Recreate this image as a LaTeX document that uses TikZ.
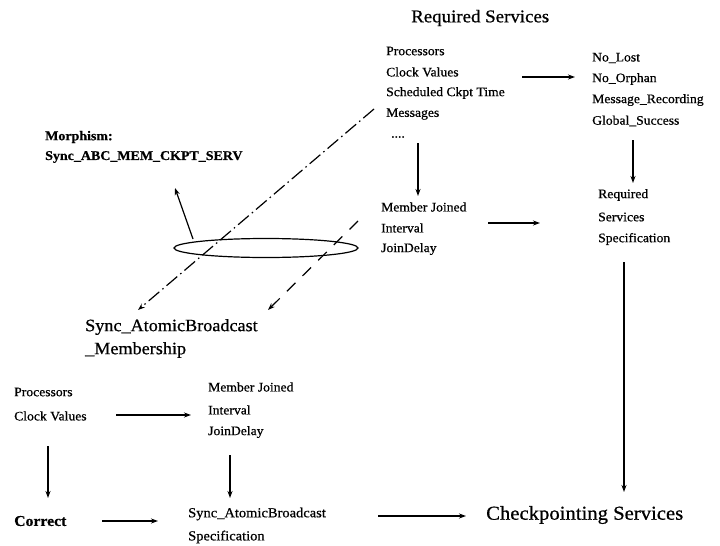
\documentclass[tikz,border=0pt]{standalone}
\usepackage{fontspec}
\setmainfont{Liberation Serif}[FakeStretch=1.05,FakeBold=0.7]
\usetikzlibrary{arrows.meta}
\begin{document}
\begin{tikzpicture}[x=1pt,y=-1pt,
  lbl/.style={anchor=west,inner sep=0pt,font=\fontsize{13}{15}\selectfont},
  lblb/.style={anchor=west,inner sep=0pt,font=\bfseries\fontsize{13.3}{15}\selectfont},
  big/.style={anchor=west,inner sep=0pt,font=\fontsize{18}{21}\selectfont},
  arr/.style={-{Stealth[length=7pt,width=5pt]},line width=1.2pt},
  dashdot/.style={line width=1.2pt,dash pattern=on 14pt off 4pt on 1.5pt off 4pt,
    -{Stealth[length=7pt,width=5pt]}},
  dashline/.style={line width=1.2pt,dash pattern=on 12pt off 10pt,
    -{Stealth[length=7pt,width=5pt]}},
]
\useasboundingbox (0,0) rectangle (720,546);

% ---- required services (top right) ----
\node[big] (rs) at (411,18) {Required Services};
\node[lbl] (p1) at (386,51) {Processors};
\node[lbl] (p2) at (386,72) {Clock Values};
\node[lbl] (p3) at (386,93) {Scheduled Ckpt Time};
\node[lbl] (p4) at (386,114) {Messages};
\node[lbl] (p5) at (391,137) {....};

\node[lbl] (q1) at (592,58) {No\_Lost};
\node[lbl] (q2) at (592,79) {No\_Orphan};
\node[lbl] (q3) at (592,100) {Message\_Recording};
\node[lbl] (q4) at (592,121) {Global\_Success};

\node[lbl] (m1) at (381,207) {Member Joined};
\node[lbl] (m2) at (381,228) {Interval};
\node[lbl] (m3) at (381,249) {JoinDelay};

\node[lbl] (s1) at (598,195) {Required};
\node[lbl] (s2) at (598,217) {Services};
\node[lbl] (s3) at (598,239) {Specification};

\coordinate (a1s) at (522,77);  \coordinate (a1e) at (575,77);
\coordinate (a2s) at (418,143); \coordinate (a2e) at (418,196);
\coordinate (a3s) at (633,140); \coordinate (a3e) at (633,183);
\coordinate (a4s) at (488,223); \coordinate (a4e) at (540,223);
\coordinate (a5s) at (624,262); \coordinate (a5e) at (624,492);
\draw[arr] (a1s) -- (a1e);
\draw[arr] (a2s) -- (a2e);
\draw[arr] (a3s) -- (a3e);
\draw[arr] (a4s) -- (a4e);
\draw[arr] (a5s) -- (a5e);

% ---- morphism ----
\node[lblb] (mo1) at (45,137) {Morphism:};
\node[lblb] (mo2) at (45,157) {Sync\_ABC\_MEM\_CKPT\_SERV};
\draw[line width=1.2pt] (266,248) ellipse [x radius=92, y radius=9.5];
\coordinate (ms) at (193,239); \coordinate (me) at (175,188);
\draw[arr] (ms) -- (me);

\coordinate (d1s) at (374,109); \coordinate (d1e) at (138,310);
\coordinate (d2s) at (358,221); \coordinate (d2e) at (268,310);
\draw[dashdot] (d1s) -- (d1e);
\draw[dashline] (d2s) -- (d2e);

\node[big,font=\fontsize{17.3}{21}\selectfont] (ab1) at (85,327) {Sync\_AtomicBroadcast};
\node[big,font=\fontsize{17.3}{21}\selectfont] (ab2) at (85,350) {\_Membership};

% ---- bottom chain ----
\node[lbl] (b1) at (14,392) {Processors};
\node[lbl] (b2) at (14,416) {Clock Values};
\node[lbl] (c1) at (208,387) {Member Joined};
\node[lbl] (c2) at (208,410) {Interval};
\node[lbl] (c3) at (208,432) {JoinDelay};
\node[lblb,font=\bfseries\fontsize{15}{17}\selectfont] (co) at (14,521) {Correct};
\node[lbl,font=\fontsize{13.8}{16}\selectfont] (sp1) at (188,514) {Sync\_AtomicBroadcast};
\node[lbl,font=\fontsize{13.8}{16}\selectfont] (sp2) at (188,537) {Specification};
\node[big,font=\fontsize{19.7}{22}\selectfont] (cs) at (486,515) {Checkpointing Services};

\coordinate (b1s) at (116,415); \coordinate (b1e) at (191,415);
\coordinate (b2s) at (48,446);  \coordinate (b2e) at (48,498);
\coordinate (b3s) at (230,455); \coordinate (b3e) at (230,498);
\coordinate (b4s) at (102,521); \coordinate (b4e) at (158,521);
\coordinate (b5s) at (378,516); \coordinate (b5e) at (466,516);
\draw[arr] (b1s) -- (b1e);
\draw[arr] (b2s) -- (b2e);
\draw[arr] (b3s) -- (b3e);
\draw[arr] (b4s) -- (b4e);
\draw[arr] (b5s) -- (b5e);
\end{tikzpicture}
\end{document}
